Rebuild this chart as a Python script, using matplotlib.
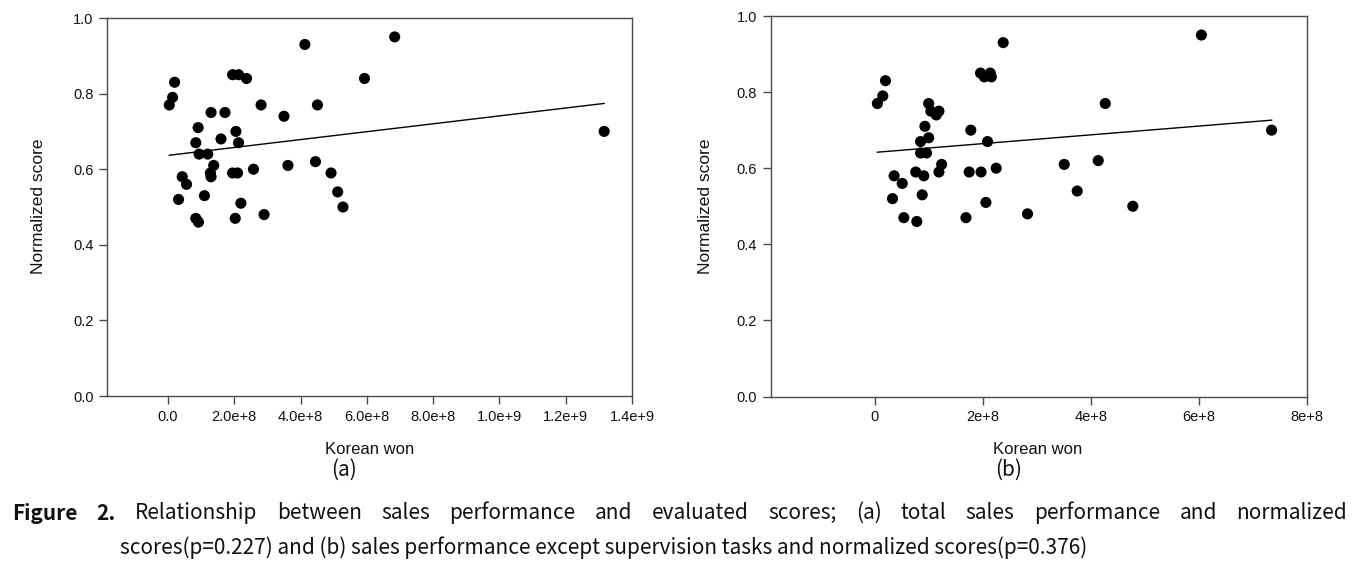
import numpy as np
import matplotlib
matplotlib.use("Agg")
import matplotlib.pyplot as plt
from matplotlib.ticker import FixedLocator, FixedFormatter

# ---- data (a) total sales performance ----
sales_a = [4e6, 1.4e7, 2.0e7, 9.1e7, 1.30e8, 1.72e8, 8.4e7, 1.60e8, 2.05e8, 2.13e8,
           9.4e7, 1.20e8, 1.38e8, 1.28e8, 1.30e8, 4.3e7, 5.6e7, 3.2e7, 1.10e8, 8.4e7,
           9.2e7, 1.95e8, 2.13e8, 2.37e8, 2.81e8, 3.50e8, 4.13e8, 4.51e8, 5.93e8, 6.84e8,
           3.62e8, 4.45e8, 4.92e8, 5.12e8, 5.28e8, 1.95e8, 2.10e8, 2.58e8, 2.20e8, 2.03e8,
           2.90e8, 1.316e9]
score_a = [0.77, 0.79, 0.83, 0.71, 0.75, 0.75, 0.67, 0.68, 0.70, 0.67,
           0.64, 0.64, 0.61, 0.59, 0.58, 0.58, 0.56, 0.52, 0.53, 0.47,
           0.46, 0.85, 0.85, 0.84, 0.77, 0.74, 0.93, 0.77, 0.84, 0.95,
           0.61, 0.62, 0.59, 0.54, 0.50, 0.59, 0.59, 0.60, 0.51, 0.47,
           0.48, 0.70]

# ---- data (b) sales performance except supervision tasks ----
sales_b = [5e6, 1.5e7, 2.0e7, 1.00e8, 1.04e8, 1.14e8, 1.19e8, 9.3e7, 1.00e8, 8.5e7,
           8.5e7, 9.6e7, 1.78e8, 2.09e8, 1.24e8, 1.19e8, 7.6e7, 9.1e7, 3.6e7, 5.1e7,
           3.3e7, 8.8e7, 5.4e7, 7.8e7, 1.75e8, 1.97e8, 2.25e8, 2.06e8, 1.69e8, 2.83e8,
           1.96e8, 2.03e8, 2.14e8, 2.16e8, 2.38e8, 3.51e8, 3.75e8, 4.14e8, 4.27e8, 4.78e8,
           6.05e8, 7.35e8]
score_b = [0.77, 0.79, 0.83, 0.77, 0.75, 0.74, 0.75, 0.71, 0.68, 0.67,
           0.64, 0.64, 0.70, 0.67, 0.61, 0.59, 0.59, 0.58, 0.58, 0.56,
           0.52, 0.53, 0.47, 0.46, 0.59, 0.59, 0.60, 0.51, 0.47, 0.48,
           0.85, 0.84, 0.85, 0.84, 0.93, 0.61, 0.54, 0.62, 0.77, 0.50,
           0.95, 0.70]

yticks = [0.0, 0.2, 0.4, 0.6, 0.8, 1.0]
ytick_labels = ["0.0", "0.2", "0.4", "0.6", "0.8", "1.0"]
xticks_a = [0, 2e8, 4e8, 6e8, 8e8, 1.0e9, 1.2e9, 1.4e9]
xtick_labels_a = ["0.0", "2.0e+8", "4.0e+8", "6.0e+8", "8.0e+8", "1.0e+9", "1.2e+9", "1.4e+9"]
xticks_b = [0, 2e8, 4e8, 6e8, 8e8]
xtick_labels_b = ["0", "2e+8", "4e+8", "6e+8", "8e+8"]

xlabel = "Korean won"
ylabel = "Normalized score"
panel_labels = ["(a)", "(b)"]

W, H = 1363, 565
fig = plt.figure(figsize=(W / 100, H / 100), dpi=100)
fig.patch.set_facecolor("white")

tick_font = "Liberation Sans"
spine_col = "#4a4a4a"


def px_axes(x0, x1, ytop, ybot):
    return fig.add_axes([x0 / W, 1 - ybot / H, (x1 - x0) / W, (ybot - ytop) / H])


def setup(ax, xs, ys, xlim, xt, xtl, xlab_x, plab_x, plab, ylab_x):
    ax.scatter(xs, ys, s=64, color="black", edgecolors="none", zorder=3)
    xs_arr = np.asarray(xs)
    k, b = np.polyfit(xs_arr, np.asarray(ys), 1)
    xl = np.array([xs_arr.min(), xs_arr.max()])
    ax.plot(xl, k * xl + b, color="black", lw=1.0, zorder=2)
    ax.set_xlim(*xlim)
    ax.set_ylim(0, 1.0)
    ax.xaxis.set_major_locator(FixedLocator(xt))
    ax.xaxis.set_major_formatter(FixedFormatter(xtl))
    ax.yaxis.set_major_locator(FixedLocator(yticks))
    ax.yaxis.set_major_formatter(FixedFormatter(ytick_labels))
    for s in ax.spines.values():
        s.set_color(spine_col)
        s.set_linewidth(1.0)
    ax.tick_params(direction="out", length=6, width=1.0, color=spine_col,
                   labelsize=10.5, pad=4)
    for lab in ax.get_xticklabels() + ax.get_yticklabels():
        lab.set_fontfamily(tick_font)
        lab.set_color("#111111")
    ax.set_xlabel("")
    ax.set_ylabel("")
    fig.text(xlab_x / W, 1 - 449 / H, xlabel, ha="center", va="center",
             fontsize=12, family=tick_font, color="#111111")
    fig.text(plab_x / W, 1 - 470 / H, plab, ha="center", va="center",
             fontsize=15, family="Noto Sans CJK KR", color="#111111")
    fig.text(ylab_x / W, 1 - 206 / H, ylabel, ha="center", va="center",
             rotation=90, fontsize=12.5, family=tick_font, color="#111111")


ax1 = px_axes(107.3, 632.0, 18, 396)
setup(ax1, sales_a, score_a, (-1.83e8, 1.4e9), xticks_a, xtick_labels_a,
      370, 344, panel_labels[0], 39)

ax2 = px_axes(771.0, 1306.7, 16, 396.5)
setup(ax2, sales_b, score_b, (-1.92e8, 8e8), xticks_b, xtick_labels_b,
      1038, 1009, panel_labels[1], 705)

# ---- caption (justified first line) ----
cap_font = "Noto Sans CJK KR"
cap_size = 15
line1 = "Figure 2. Relationship between sales performance and evaluated scores; (a) total sales performance and normalized"
line2 = "scores(p=0.227) and (b) sales performance except supervision tasks and normalized scores(p=0.376)"

fig.canvas.draw()
renderer = fig.canvas.get_renderer()
words = line1.split()
texts = []
for i, w in enumerate(words):
    t = fig.text(0, 1 - 513 / H, w, ha="left", va="center", fontsize=cap_size,
                 family=cap_font, color="#111111",
                 fontweight="bold" if i < 2 else "normal")
    texts.append(t)
widths = [t.get_window_extent(renderer).width for t in texts]
left, right = 12, 1347
gap = (right - left - sum(widths)) / (len(words) - 1)
x = left
for t, wd in zip(texts, widths):
    t.set_x(x / W)
    x += wd + gap

fig.text(120 / W, 1 - 548 / H, line2, ha="left", va="center", fontsize=cap_size,
         family=cap_font, color="#111111")

fig.savefig("out.png", dpi=100, facecolor="white")
